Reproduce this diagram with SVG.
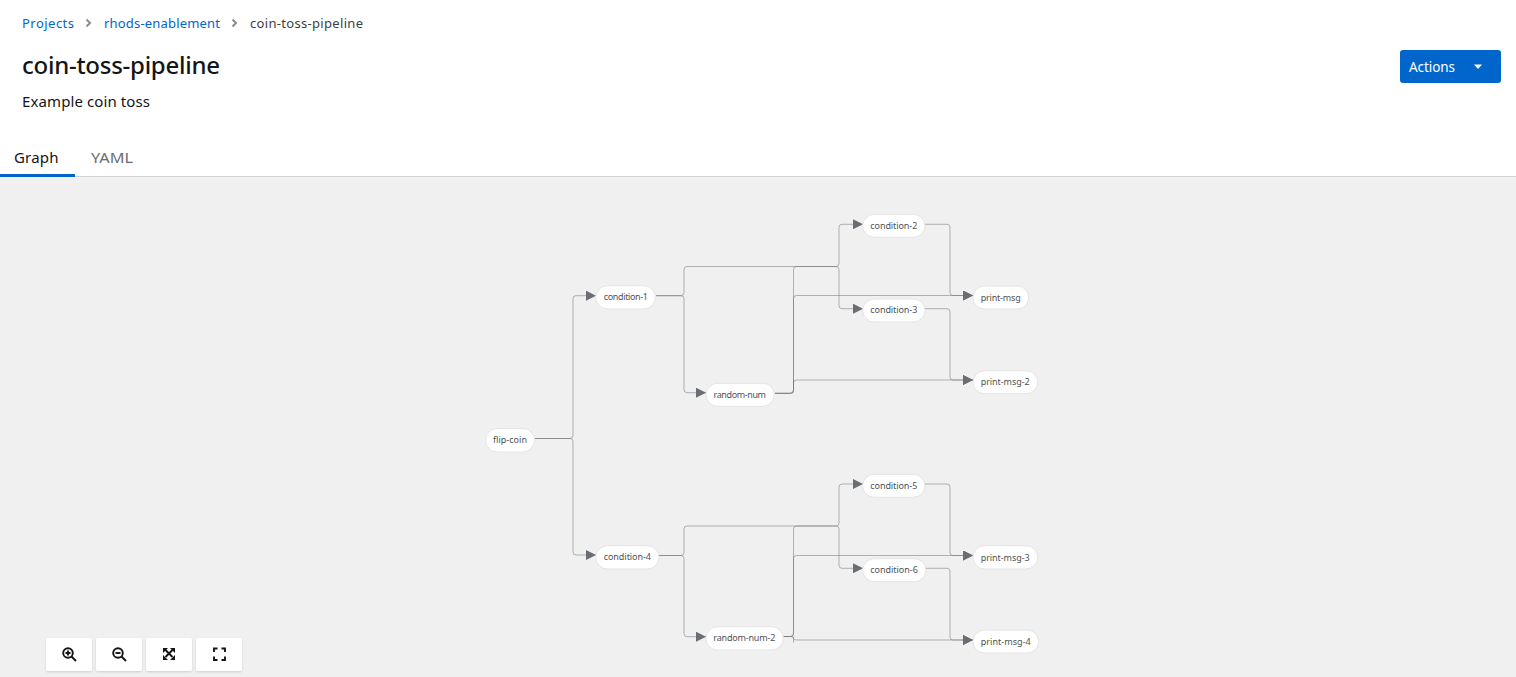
<svg xmlns="http://www.w3.org/2000/svg" width="1516" height="677" viewBox="0 0 1516 677">
<style>
text{font-family:"Noto Sans","Open Sans","Liberation Sans",sans-serif}
.crumb{font-size:13px;fill:#06c}
.cur{fill:#3c3f42}
.lbl{font-size:9px;fill:#4f5255}
.pill{fill:#fff;stroke:#e4e4e4;stroke-width:1}
.edge{fill:none;stroke:#6a6e73;stroke-width:1;stroke-opacity:.5}
.arrow{fill:#6a6e73}
.tb{fill:#fff;filter:url(#sh)}
.ic{fill:none;stroke:#151515;stroke-width:1.9}
.icf{fill:#151515}
.chev{fill:none;stroke:#8a8d90;stroke-width:2}
</style>
<defs>
<filter id="sh" x="-10%" y="-10%" width="120%" height="125%"><feDropShadow dx="0" dy="1" stdDeviation="1" flood-color="#000" flood-opacity=".14"/></filter>
<marker id="ah" markerUnits="userSpaceOnUse" markerWidth="10" markerHeight="10" refX="10" refY="5" orient="auto"><path class="arrow" d="M0 0L10 5L0 10Z"/></marker>
</defs>
<rect width="1516" height="677" fill="#fff"/>
<g id="header">
<text class="crumb" x="22" y="28" textLength="52">Projects</text>
<path class="chev" d="M86.500 19.500l3.500 3.500l-3.500 3.500"/>
<text class="crumb" x="104" y="28" textLength="116">rhods-enablement</text>
<path class="chev" d="M232.500 19.500l3.500 3.500l-3.500 3.500"/>
<text class="crumb cur" x="250" y="28" textLength="113">coin-toss-pipeline</text>
<text x="22" y="74" font-size="24" font-weight="500" fill="#151515" textLength="198">coin-toss-pipeline</text>
<text x="22" y="107" font-size="15" fill="#151515" textLength="128">Example coin toss</text>
</g>
<g id="actions">
<rect x="1400" y="50" width="101" height="33" rx="3" fill="#06c"/>
<text x="1409" y="72" font-size="13.500" fill="#fff" textLength="46">Actions</text>
<path d="M1474 64.500h8l-4 4.500z" fill="#fff"/>
</g>
<g id="tabs">
<text x="14" y="163" font-size="15" fill="#151515" textLength="44.500">Graph</text>
<text x="91" y="163" font-size="15" fill="#6a6e73" textLength="42" lengthAdjust="spacingAndGlyphs">YAML</text>
</g>
<rect x="0" y="177" width="1516" height="500" fill="#f0f0f0"/>
<rect x="0" y="176" width="1516" height="1" fill="#d2d2d2"/>
<rect x="0" y="174" width="75" height="3" fill="#06c"/>
<g id="connectors">
<path class="edge" marker-end="url(#ah)" d="M535 438.500H570Q573 438.500 573 435.500V298.700Q573 295.700 576 295.700H596"/>
<path class="edge" marker-end="url(#ah)" d="M535 438.500H570Q573 438.500 573 441.500V552Q573 555 576 555H596"/>
<path class="edge" marker-end="url(#ah)" d="M656 295.700H681Q684 295.700 684 292.700V269.500Q684 266.500 687 266.500H836Q839 266.500 839 263.500V227.300Q839 224.300 842 224.300H863"/>
<path class="edge" marker-end="url(#ah)" d="M656 295.700H681Q684 295.700 684 298.700V389.700Q684 392.700 687 392.700H706"/>
<path class="edge" marker-end="url(#ah)" d="M836 266.500Q839 266.500 839 269.500V305.700Q839 308.700 842 308.700H863"/>
<path class="edge" d="M775 393.500H790.500Q793.500 393.500 793.500 390.500V269.500Q793.500 266.500 796.500 266.500H836"/>
<path class="edge" d="M775 393.500H790.500Q793.500 393.500 793.500 390.500V298.500Q793.500 295.500 796.500 295.500"/>
<path class="edge" marker-end="url(#ah)" d="M796.500 295.500H973"/>
<path class="edge" marker-end="url(#ah)" d="M775 393H790.500Q793.500 393 793.500 390V383Q793.500 380 796.500 380H973"/>
<path class="edge" marker-end="url(#ah)" d="M925 224.300H947Q950 224.300 950 227.300V292.500Q950 295.500 953 295.500H973"/>
<path class="edge" marker-end="url(#ah)" d="M925 308.700H947Q950 308.700 950 311.700V377Q950 380 953 380H973"/>
<path class="edge" marker-end="url(#ah)" d="M659 555.500H681Q684 555.500 684 552.500V529Q684 526 687 526H836Q839 526 839 523V487Q839 484 842 484H863"/>
<path class="edge" marker-end="url(#ah)" d="M659 555.500H681Q684 555.500 684 558.500V633.700Q684 636.700 687 636.700H706"/>
<path class="edge" marker-end="url(#ah)" d="M836 526Q839 526 839 529V565.300Q839 568.300 842 568.300H863"/>
<path class="edge" d="M783.500 636.500H790.500Q793.500 636.500 793.500 633.500V529Q793.500 526 796.500 526H836"/>
<path class="edge" marker-end="url(#ah)" d="M783.500 636.500H790.500Q793.500 636.500 793.500 633.500V558.500Q793.500 555.500 796.500 555.500H973"/>
<path class="edge" marker-end="url(#ah)" d="M783.500 636.500H790.500Q793.500 636.500 793.500 638.500Q793.500 640 796.500 640H973"/>
<path class="edge" d="M793.500 636.500V642.500"/>
<path class="edge" marker-end="url(#ah)" d="M925 484H947Q950 484 950 487V552.500Q950 555.500 953 555.500H973"/>
<path class="edge" marker-end="url(#ah)" d="M926 568.300H947Q950 568.300 950 571.300V637Q950 640 953 640H973"/>
</g>
<g id="flip-coin"><rect class="pill" x="485.500" y="428.500" width="49" height="23.500" rx="11.700"/><text class="lbl" x="493" y="442.500" textLength="34">flip-coin</text></g>
<g id="condition-1"><rect class="pill" x="595.700" y="285.700" width="59.800" height="23.300" rx="11.600"/><text class="lbl" x="603.700" y="300" textLength="44.300">condition-1</text></g>
<g id="condition-4"><rect class="pill" x="595.700" y="545.700" width="63.300" height="23.300" rx="11.600"/><text class="lbl" x="603.700" y="560" textLength="47.300">condition-4</text></g>
<g id="random-num"><rect class="pill" x="706" y="383.300" width="68.300" height="23" rx="11.500"/><text class="lbl" x="713.500" y="398" textLength="52.500">random-num</text></g>
<g id="random-num-2"><rect class="pill" x="706" y="626.700" width="77.300" height="23.300" rx="11.600"/><text class="lbl" x="713.300" y="641" textLength="62">random-num-2</text></g>
<g id="condition-2"><rect class="pill" x="862.700" y="214.300" width="62.300" height="23" rx="11.500"/><text class="lbl" x="870.300" y="229" textLength="47">condition-2</text></g>
<g id="condition-3"><rect class="pill" x="862.700" y="299" width="62.300" height="23" rx="11.500"/><text class="lbl" x="870.300" y="313.300" textLength="47">condition-3</text></g>
<g id="condition-5"><rect class="pill" x="862.700" y="474.300" width="62.300" height="22.900" rx="11.400"/><text class="lbl" x="870.300" y="489" textLength="47">condition-5</text></g>
<g id="condition-6"><rect class="pill" x="862.700" y="558.700" width="63.300" height="23" rx="11.500"/><text class="lbl" x="870.300" y="573" textLength="47.500">condition-6</text></g>
<g id="print-msg"><rect class="pill" x="973" y="286" width="55.700" height="23" rx="11.500"/><text class="lbl" x="980.700" y="300.500" textLength="40">print-msg</text></g>
<g id="print-msg-2"><rect class="pill" x="973" y="370.700" width="64.700" height="23" rx="11.500"/><text class="lbl" x="980.700" y="385" textLength="49">print-msg-2</text></g>
<g id="print-msg-3"><rect class="pill" x="973" y="545.700" width="64.700" height="23.300" rx="11.600"/><text class="lbl" x="980.700" y="560.500" textLength="49">print-msg-3</text></g>
<g id="print-msg-4"><rect class="pill" x="973" y="630" width="65.700" height="23" rx="11.500"/><text class="lbl" x="980.700" y="644.500" textLength="50">print-msg-4</text></g>
<g id="zoom-controls">
<rect class="tb" x="46" y="638" width="46" height="33" rx="2"/>
<rect class="tb" x="96" y="638" width="46" height="33" rx="2"/>
<rect class="tb" x="146" y="638" width="46" height="33" rx="2"/>
<rect class="tb" x="196" y="638" width="46" height="33" rx="2"/>
<circle class="ic" cx="68" cy="653" r="4.800"/><path class="ic" stroke-width="2.400" d="M71.500 656.500L76 661"/><path class="ic" stroke-width="1.300" d="M65.500 653h5M68 650.500v5"/>
<circle class="ic" cx="118" cy="653" r="4.800"/><path class="ic" stroke-width="2.400" d="M121.500 656.500L126 661"/><path class="ic" stroke-width="1.300" d="M115.500 653h5"/>
<path class="ic" stroke-width="1.800" d="M165.500 650L172.500 657M172.500 650L165.500 657"/>
<path class="icf" d="M163 648h5l-5 5zM175 648h-5l5 5zM163 660h5l-5-5zM175 660h-5l5-5z"/>
<path class="ic" d="M214 652v-3.500h3.500M221.500 648.500h3.500v3.500M225 656.500v3.500h-3.500M217.500 660h-3.500v-3.500"/>
</g>
</svg>
